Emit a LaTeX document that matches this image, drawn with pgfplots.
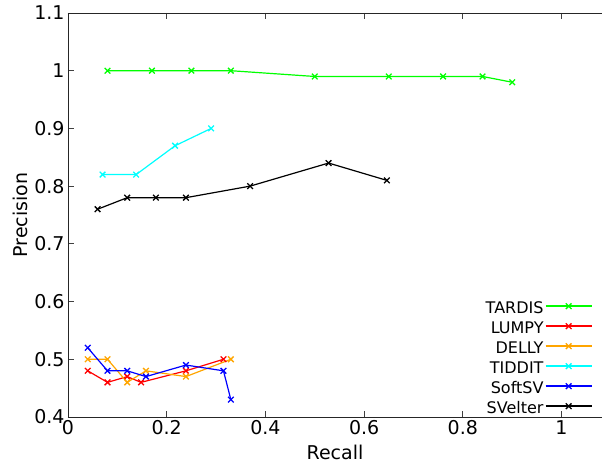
\documentclass[border=0pt]{standalone}
\usepackage{fontspec}
\setmainfont{DejaVu Sans}
\usepackage{pgfplots}
\pgfplotsset{compat=1.18}

\definecolor{tardis}{RGB}{0,255,0}
\definecolor{lumpy}{RGB}{255,0,0}
\definecolor{delly}{RGB}{255,165,0}
\definecolor{tiddit}{RGB}{0,255,255}
\definecolor{softsv}{RGB}{0,0,255}
\definecolor{svelter}{RGB}{0,0,0}

\begin{document}
\begin{tikzpicture}
\begin{axis}[
  scale only axis,
  width=534bp, height=404bp,
  xmin=0, xmax=1.082,
  ymin=0.4, ymax=1.1,
  xtick={0,0.2,0.4,0.6,0.8,1},
  ytick={0.4,0.5,0.6,0.7,0.8,0.9,1,1.1},
  xticklabels={0,0.2,0.4,0.6,0.8,1},
  yticklabels={0.4,0.5,0.6,0.7,0.8,0.9,1,1.1},
  axis x line*=box,
  axis y line*=left,
  ytick pos=left,
  tick align=inside,
  major tick length=6bp,
  tick style={black!75, line width=0.8bp},
  axis line style={black!85, line width=0.9bp},
  ticklabel style={font=\fontsize{19bp}{22bp}\selectfont},
  label style={font=\fontsize{19bp}{22bp}\selectfont},
  xlabel style={yshift=-3bp},
  /pgf/number format/assume math mode=true,
  xlabel={Recall},
  ylabel={Precision},
  every axis plot/.append style={line width=1.2bp, mark=x, mark size=4bp,
    mark options={line width=1.3bp}},
  legend plot pos=right,
  legend cell align=right,
  legend image code/.code={%
    \draw[mark repeat=2, mark phase=2, #1, line width=1.4bp]
      plot coordinates {(0bp,3bp) (23bp,3bp) (46bp,3bp)};},
  legend style={draw=none, fill=none, at={(rel axis cs:0.988,0.297)}, anchor=north east,
    font=\fontsize{16bp}{19bp}\selectfont, row sep=0pt,
    nodes={inner sep=1.5bp, text height=13bp, text depth=4bp},
    /tikz/every even column/.append style={column sep=6bp}},
]
% TARDIS
\addplot[tardis] coordinates {
  (0.08,1.00) (0.17,1.00) (0.25,1.00) (0.33,1.00) (0.50,0.99)
  (0.65,0.99) (0.76,0.99) (0.84,0.99) (0.90,0.98)};
\addlegendentry{TARDIS}
% LUMPY
\addplot[lumpy] coordinates {
  (0.04,0.48) (0.08,0.46) (0.12,0.47) (0.148,0.46) (0.239,0.48) (0.315,0.50)};
\addlegendentry{LUMPY}
% DELLY
\addplot[delly] coordinates {
  (0.04,0.50) (0.08,0.50) (0.12,0.46) (0.158,0.48) (0.239,0.47) (0.33,0.50)};
\addlegendentry{DELLY}
% TIDDIT
\addplot[tiddit] coordinates {
  (0.07,0.82) (0.138,0.82) (0.217,0.87) (0.29,0.90)};
\addlegendentry{TIDDIT}
% SoftSV
\addplot[softsv] coordinates {
  (0.04,0.52) (0.08,0.48) (0.12,0.48) (0.158,0.47) (0.239,0.49) (0.315,0.48) (0.33,0.43)};
\addlegendentry{SoftSV}
% SVelter
\addplot[svelter] coordinates {
  (0.06,0.76) (0.12,0.78) (0.178,0.78) (0.239,0.78) (0.369,0.80) (0.528,0.84) (0.646,0.81)};
\addlegendentry{SVelter}
\end{axis}
\pgfresetboundingbox
\path[use as bounding box] ([shift={(-68bp,-51bp)}]current axis.south west)
  rectangle ([shift={(0bp,13bp)}]current axis.north east);
\end{tikzpicture}
\end{document}
